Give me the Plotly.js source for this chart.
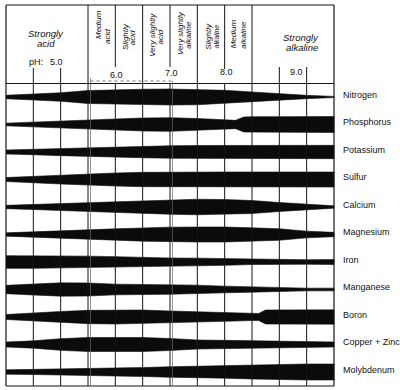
<!DOCTYPE html>
<html><head><meta charset="utf-8">
<script src="https://cdn.plot.ly/plotly-3.0.1.min.js"></script>
<style>html,body{margin:0;padding:0;background:#fff}#chart{width:400px;height:390px}</style>
</head><body><div id="chart"></div>
<script>
// ---- DATA (relative availability = band thickness) ----
const ph = [4, 4.5, 5, 5.5, 6, 6.5, 7, 7.5, 8, 8.5, 9, 9.5, 10];
const nutrients = ['Nitrogen', 'Phosphorus', 'Potassium', 'Sulfur', 'Calcium', 'Magnesium',
                   'Iron', 'Manganese', 'Boron', 'Copper + Zinc', 'Molybdenum'];
const nitrogen   = [3.5, 5.5, 8.5, 13, 15, 15.5, 16, 15.5, 13.5, 10, 6.5, 3.3, 1.2];
const phPhosphorus = [4, 4.5, 5, 5.5, 6, 6.5, 7, 7.5, 8, 8.2, 8.35, 8.5, 9, 9.5, 10];
const phosphorus = [2.7, 4.5, 6, 9, 11, 13, 13.7, 12, 9, 8.3, 15, 15.7, 15.7, 16, 16];
const potassium  = [4, 5.5, 7.3, 9, 10.5, 11.5, 12.5, 13, 13.3, 13.3, 13.3, 13.3, 13.3];
const sulfur     = [4, 6.5, 9, 11.5, 13, 14.3, 15, 15, 15, 15, 15, 15, 15];
const calcium    = [3.3, 5, 7, 8.7, 11, 13, 14.5, 15.5, 15, 13, 9, 5.3, 2.3];
const magnesium  = [3.3, 5.7, 7.3, 9.3, 11.3, 13.3, 14.7, 15, 15, 13.3, 11.5, 6.7, 4.3];
const iron       = [12.7, 12.7, 12.7, 11.7, 10.7, 9, 8, 7.7, 6.7, 5, 4, 4.5, 5];
const manganese  = [8.3, 11, 13.3, 13, 10.7, 10, 9.5, 8.7, 6.7, 5.3, 3.3, 2.7, 2.7];
const phBoron    = [4, 4.5, 5, 5.5, 6, 6.5, 7, 7.5, 8, 8.5, 8.62, 8.75, 9, 9.5, 10];
const boron      = [5, 8.3, 11, 13.3, 14, 14, 12, 10, 8.7, 7, 7, 14, 14.3, 14.3, 14.3];
const copperZinc = [5, 7.3, 11.7, 14, 14, 14, 12, 9, 8.3, 7.3, 6.7, 5.7, 5];
const molybdenum = [4.3, 5, 5.7, 6.7, 7.7, 9, 10.5, 11.7, 12.3, 14, 15.3, 16, 16];

const tickLabels = ['5.0', '6.0', '7.0', '8.0', '9.0'];
const zoneLines = [['Medium','acid'], ['Slightly','acid'], ['Very slightly','acid'],
                   ['Very slightly','alkaline'], ['Slightly','alkaline'], ['Medium','alkaline']];

// ---- LAYOUT GEOMETRY ----
const W = 400, H = 390;
const PH0 = 4, PH1 = 10, PX0 = 6, PX1 = 334;
const K = (PX1 - PX0) / (PH1 - PH0);
const ROW0 = 97, ROWPX = 27.5;
const xp = px => PH0 + (px - PX0) / K;   // pixel -> pH
const yp = px => 1 - px / H;              // pixel -> paper
const FONT = 'Liberation Sans, Arial, Helvetica, sans-serif';
const INK = '#0b0b0b';

const series = [
  [ph, nitrogen], [phPhosphorus, phosphorus], [ph, potassium], [ph, sulfur],
  [ph, calcium], [ph, magnesium], [ph, iron], [ph, manganese],
  [phBoron, boron], [ph, copperZinc], [ph, molybdenum]
];

const traces = series.map(([xs, vs], i) => {
  const hw = vs.map(v => v / 2 / ROWPX);
  const top = xs.map((p, j) => i - hw[j]);
  const bot = xs.map((p, j) => i + hw[j]);
  return {
    type: 'scatter', mode: 'lines', name: nutrients[i],
    x: xs.concat(xs.slice().reverse()),
    y: top.concat(bot.slice().reverse()),
    fill: 'toself', fillcolor: INK,
    line: {color: INK, width: 0.6},
    hoverinfo: 'skip', showlegend: false
  };
});

const shapes = [];
function vline(phv, y0, y1, w, col, dash) {
  shapes.push({type: 'line', xref: 'x', yref: 'paper', x0: phv, x1: phv, y0: yp(y0), y1: yp(y1),
               line: {color: col || '#151515', width: w || 1, dash: dash || 'solid'}});
}
function hline(ph0, ph1, y, w, col, dash) {
  shapes.push({type: 'line', xref: 'x', yref: 'paper', x0: ph0, x1: ph1, y0: yp(y), y1: yp(y),
               line: {color: col || '#151515', width: w || 1, dash: dash || 'solid'}});
}
const TOP = 5, HDR = 83.5, BOT = 386;
// grid verticals in the body
[4.5, 5, 5.5, 6, 6.5, 7, 7.5, 8, 8.5, 9, 9.5].forEach(p => vline(p, HDR, BOT, 1));
// header dividers / ticks
[5.5, 6.5, 7.5, 8.5].forEach(p => vline(p, TOP, HDR, 1));
[6, 7].forEach(p => vline(p, TOP, 67, 1));
vline(8, TOP, 69, 1);
[4.5, 5].forEach(p => vline(p, 68, HDR, 1));
[9, 9.5].forEach(p => vline(p, 67, HDR, 1));
// frame
vline(PH0, TOP, BOT, 1.2);
vline(PH1, TOP, BOT, 1.2);
hline(PH0, PH1, TOP, 1.2);
hline(PH0, PH1, HDR, 1.2);
hline(PH0, PH1, BOT, 1.2);
// faint neutral-range bracket
vline(xp(90.5), 78, BOT, 0.7, '#666');
vline(xp(172.5), 81, BOT, 0.7, '#666');
hline(xp(90.5), xp(172.5), 81, 0.8, '#555', 'dot');

const ann = [];
function txt(t, px, py, size, angle, italic) {
  ann.push({text: italic ? '<i>' + t + '</i>' : t, xref: 'x', yref: 'paper', x: xp(px), y: yp(py),
            xanchor: 'center', yanchor: 'middle', showarrow: false, textangle: angle || 0,
            font: {family: FONT, size: size, color: '#111'}});
}
// horizontal header texts
txt('Strongly', 45.7, 33.5, 9.5, 0, true);
txt('acid', 46, 43.5, 9.5, 0, true);
txt('Strongly', 301, 37, 9.5, 0, true);
txt('alkaline', 301.5, 47, 9.5, 0, true);
txt('pH:', 35.5, 62, 9);
txt(tickLabels[0], 56.5, 62, 9);
txt(tickLabels[1], 116.7, 75, 9);
txt(tickLabels[2], 171, 73, 9);
txt(tickLabels[3], 226.7, 72, 9);
txt(tickLabels[4], 296, 72, 9);
// rotated zone texts (two lines per column)
const rotPos = [[99, 25, 107, 37], [125, 37, 133.3, 38], [151.7, 35, 160, 37.5],
                [180, 33, 188.3, 34.5], [208.3, 36.5, 216, 36.5], [233.3, 34, 242.7, 35]];
zoneLines.forEach((ls, i) => {
  const p = rotPos[i];
  txt(ls[0], p[0], p[1], 8, -90, true);
  txt(ls[1], p[2], p[3], i === 4 ? 7 : 8, -90, true);
});
// nutrient labels on the right
nutrients.forEach((n, i) => {
  ann.push({text: n, xref: 'x', yref: 'y', x: xp(341), y: i, yshift: 2.5,
            xanchor: 'left', yanchor: 'middle', showarrow: false,
            font: {family: FONT, size: 9, color: '#111'}});
});

const layout = {
  width: W, height: H, margin: {l: 0, r: 0, t: 0, b: 0, pad: 0},
  paper_bgcolor: '#fff', plot_bgcolor: '#fff', showlegend: false,
  xaxis: {range: [xp(0), xp(W)], visible: false, fixedrange: true},
  yaxis: {range: [(H - ROW0) / ROWPX, -ROW0 / ROWPX], visible: false, fixedrange: true},
  shapes: shapes, annotations: ann
};
Plotly.newPlot('chart', traces, layout, {displayModeBar: false, staticPlot: true});
</script>
</body></html>
